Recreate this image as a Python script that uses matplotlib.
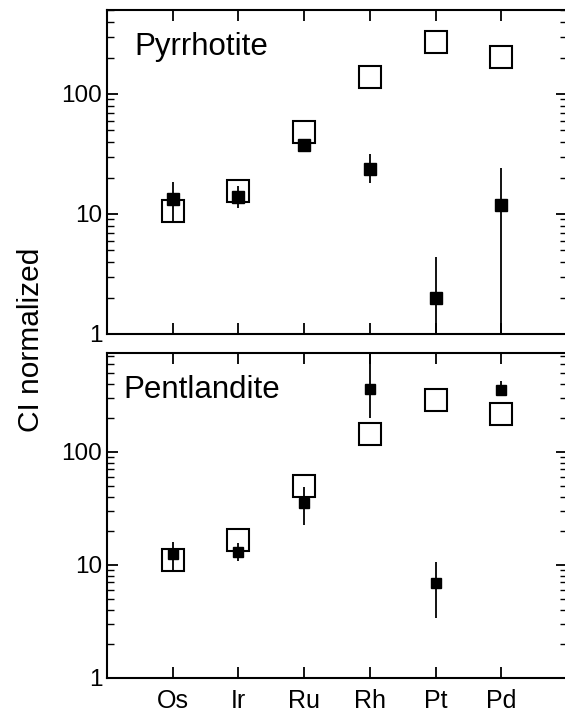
import matplotlib
matplotlib.use("Agg")
import matplotlib.pyplot as plt
from matplotlib.ticker import LogLocator, NullFormatter, FixedLocator

plt.rcParams['font.family'] = ['Liberation Sans', 'DejaVu Sans']

elements = ['Os', 'Ir', 'Ru', 'Rh', 'Pt', 'Pd']
xpos = [1, 2, 3, 4, 5, 6]

# reference abundances (open squares), same in both panels
ref_po = [10.5, 15.5, 48, 138, 272, 203]
ref_pn = [11, 16.5, 50, 145, 290, 218]

# pyrrhotite: value, lower, upper
po_val = [13.3, 13.8, 37.6, 23.7, 2.0, 11.9]
po_lo = [8.6, 11.2, 35.5, 18.1, 1.0, 1.0]
po_hi = [18.5, 17.0, 40.0, 31.6, 4.4, 24.2]

# pentlandite: value, lower, upper
pn_val = [12.5, 13.0, 35, 360, 6.9, 350]
pn_lo = [9.0, 10.8, 22.6, 200, 3.4, 310]
pn_hi = [16.0, 15.6, 49, 900, 10.6, 425]

fig = plt.figure(figsize=(5.65, 7.16), dpi=100)
W, H = 565, 716
left = 107 / W
width = 460 / W
ax1 = fig.add_axes([left, 1 - 334 / H, width, 324 / H])
ax2 = fig.add_axes([left, 1 - 678 / H, width, 325 / H])


def draw(ax, ref, val, lo, hi, ytop, fsize, label, lx, ly):
    ax.set_yscale('log')
    ax.set_xlim(0.0, 7.0)
    ax.set_ylim(1, ytop)
    ax.plot(xpos, ref, 's', ms=15.5, mfc='none', mec='black', mew=1.5,
            zorder=2)
    yerr = [[v - l for v, l in zip(val, lo)], [h - v for v, h in zip(val, hi)]]
    ax.errorbar(xpos, val, yerr=yerr, fmt='s', ms=fsize, color='black',
                ecolor='black', elinewidth=1.3, capsize=0, zorder=3,
                clip_on=True)
    ax.text(lx, ly, label, transform=ax.transAxes, fontsize=22.5,
            ha='left', va='center')
    for s in ax.spines.values():
        s.set_linewidth(1.5)
    ax.set_xticks(xpos)
    ax.yaxis.set_major_locator(FixedLocator([1, 10, 100]))
    ax.yaxis.set_minor_locator(LogLocator(base=10, subs=range(2, 10)))
    ax.yaxis.set_minor_formatter(NullFormatter())
    ax.set_yticklabels(['1', '10', '100'])
    ax.tick_params(axis='both', which='major', direction='in', length=8,
                   width=1.3, top=True, right=True, labelsize=17.5)
    ax.tick_params(axis='y', which='minor', direction='in', length=5,
                   width=1.0, right=True)
    ax.tick_params(axis='x', labelsize=18, pad=8)


draw(ax1, ref_po, po_val, po_lo, po_hi, 500, 8.5, 'Pyrrhotite', 0.06, 0.885)
draw(ax2, ref_pn, pn_val, pn_lo, pn_hi, 750, 6.5, 'Pentlandite', 0.035, 0.886)

ax1.set_xticklabels([])
ax2.set_xticklabels(elements)

fig.text(31 / W, 1 - 340 / H, 'CI normalized', rotation=90, fontsize=21.5,
         ha='center', va='center')

fig.savefig('out.png', dpi=100)
